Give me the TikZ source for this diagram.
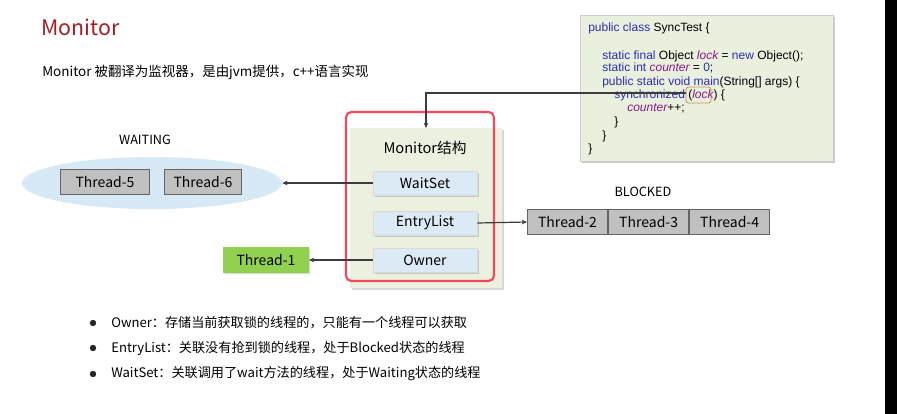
\documentclass[tikz,border=0pt]{standalone}
\usepackage{fontspec}
\setmainfont{Noto Sans CJK SC}
\newfontfamily\codefont{Liberation Sans}
\usetikzlibrary{shadows,arrows.meta,shapes.geometric}
\definecolor{titlered}{RGB}{160,30,38}
\definecolor{codebg}{RGB}{234,240,222}
\definecolor{monbg}{RGB}{235,241,222}
\definecolor{boxblue}{RGB}{220,234,245}
\definecolor{ellblue}{RGB}{214,233,244}
\definecolor{thgray}{RGB}{192,192,192}
\definecolor{thborder}{RGB}{100,100,100}
\definecolor{thgreen}{RGB}{146,208,80}
\definecolor{monred}{RGB}{250,70,90}
\definecolor{kw}{RGB}{45,45,175}
\definecolor{vr}{RGB}{135,25,135}
\definecolor{lockbox}{RGB}{200,140,90}
\definecolor{linegray}{RGB}{60,60,60}
\tikzset{
  px/.style={x=0.75pt,y=-0.75pt},
  structbox/.style={draw=white!85!black,fill=boxblue,minimum width=78pt,minimum height=18pt,inner sep=0pt,font=\fontsize{10.5pt}{12pt}\selectfont,drop shadow={shadow xshift=1.2pt,shadow yshift=-1.2pt,opacity=0.35}},
  threadbox/.style={draw=thborder,line width=0.8pt,fill=thgray,minimum width=60pt,minimum height=19pt,inner sep=0pt,font=\fontsize{10.5pt}{12pt}\selectfont},
  codeline/.style={anchor=west,inner sep=0pt,font=\codefont\fontsize{9pt}{10pt}\selectfont},
  bullettext/.style={anchor=west,inner sep=0pt,font=\fontsize{9.85pt}{12pt}\selectfont},
  conn/.style={draw=linegray,line width=0.9pt,-{Stealth[length=4pt,width=3.5pt]}},
}
\newcommand{\kwc}[1]{\textcolor{kw}{#1}}
\newcommand{\vrc}[1]{\textcolor{vr}{\itshape #1}}
\begin{document}
\begin{tikzpicture}[px]
\useasboundingbox (0,0) rectangle (897,414);
\fill[white] (0,0) rectangle (897,414);
\fill[black] (885,0) rectangle (897,414);

% title
\node[anchor=west,inner sep=0pt,text=titlered,font=\fontsize{16pt}{18pt}\selectfont] (title) at (41,27) {Monitor};
\node[anchor=west,inner sep=0pt,font=\fontsize{10.1pt}{12pt}\selectfont] (sub) at (42,72) {Monitor 被翻译为监视器，是由jvm提供，c++语言实现};

% code box
\node[draw=white!80!black,line width=0.4pt,fill=codebg,minimum width=189.75pt,minimum height=109.5pt,inner sep=0pt,anchor=north west,drop shadow={shadow xshift=1.2pt,shadow yshift=-1.5pt,opacity=0.4}] (code) at (580,15) {};
\node[codeline] (c1) at (588,28) {\kwc{public class} SyncTest \{};
\node[codeline] (c2) at (602,56) {\kwc{static final} Object \vrc{lock} = \kwc{new} Object();};
\node[codeline] (c3) at (602,68) {\kwc{static int} \vrc{counter} = \kwc{0};};
\node[codeline] (c4) at (602,82) {\kwc{public static void} \kwc{main}(String[] args) \{};
\node[codeline] (c5) at (614,95) {\kwc{synchronized} (\vrc{lock}) \{};
\node[codeline] (c6) at (627,108) {\vrc{counter}++;};
\node[codeline] (c7) at (614,122) {\}};
\node[codeline] (c8) at (602,136) {\}};
\node[codeline] (c9) at (588,149) {\}};
\coordinate (lockA) at (686,93);
\draw[lockbox,line width=0.6pt,rounded corners=2pt] (686,87) rectangle (711,103);

% monitor structure
\node[fill=monbg,minimum width=114pt,minimum height=120pt,inner sep=0pt,anchor=north west,drop shadow={shadow xshift=1.2pt,shadow yshift=-1.2pt,opacity=0.3}] (mon) at (350,128) {};
\node[inner sep=0pt,font=\fontsize{11pt}{13pt}\selectfont] (montitle) at (425,148) {Monitor结构};
\node[structbox] (waitset) at (425,183) {WaitSet};
\node[structbox] (entry) at (425,223) {EntryList};
\node[structbox] (owner) at (425,260) {Owner};
\draw[monred,line width=1.6pt,rounded corners=4pt] (346,112) rectangle (494,281);

% connector from lock
\coordinate (monin) at (426,128);
\draw[conn] (lockA) -- (426,93) -- (monin);

% waiting
\node[ellipse,fill=ellblue,minimum width=195pt,minimum height=39pt,inner sep=0pt] (ell) at (152,183) {};
\node[inner sep=0pt,font=\fontsize{9.5pt}{12pt}\selectfont] (waiting) at (145,140) {WAITING};
\node[threadbox,minimum width=67pt] (t5) at (105,182) {Thread-5};
\node[threadbox,minimum width=58pt] (t6) at (203,182) {Thread-6};
\draw[conn] (waitset.west) -- (ell.east);

% blocked
\node[inner sep=0pt,font=\fontsize{9.5pt}{12pt}\selectfont] (blocked) at (643,192) {BLOCKED};
\node[threadbox,anchor=west] (t2) at (527,222) {Thread-2};
\node[threadbox,anchor=west] (t3) at (t2.east) {Thread-3};
\node[threadbox,anchor=west] (t4) at (t3.east) {Thread-4};
\draw[conn] (entry.east) -- (t2.west);

% owner
\node[fill=thgreen,minimum width=64pt,minimum height=19pt,inner sep=0pt,font=\fontsize{10.5pt}{12pt}\selectfont,drop shadow={shadow xshift=1pt,shadow yshift=-1pt,opacity=0.3}] (t1) at (266,260) {Thread-1};
\draw[conn] (owner.west) -- (t1.east);

% bullets
\foreach \yy in {323,348,374}{
  \fill[black!85] (93,\yy) circle (3.2);
}
\node[bullettext] (b1) at (111,323) {Owner：存储当前获取锁的线程的，只能有一个线程可以获取};
\node[bullettext] (b2) at (111,348) {EntryList：关联没有抢到锁的线程，处于Blocked状态的线程};
\node[bullettext] (b3) at (111,374) {WaitSet：关联调用了wait方法的线程，处于Waiting状态的线程};
\end{tikzpicture}
\end{document}
